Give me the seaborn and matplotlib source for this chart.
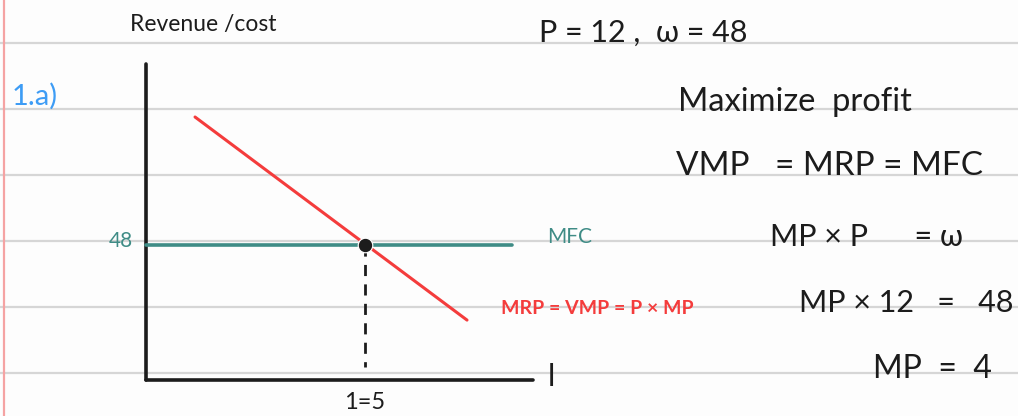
import seaborn as sns
import numpy as np
import pandas as pd
import matplotlib.pyplot as plt
from matplotlib.lines import Line2D

sns.set_theme(style='white')
plt.rcParams['font.family'] = ['Lato', 'DejaVu Sans']

# given values
price = 12
wage = 48
mp_opt = 4
labor_opt = 5

# MRP = VMP curve (labour, revenue)
mrp_labor = [1.12, 7.33]
mrp_value = [93.5, 21.3]

# MFC line
mfc_labor = [0, 8.36]
mfc_value = [wage, wage]

RED = '#f43c3c'
TEAL = '#3f8c86'
INK = '#1c1c1c'

fig = plt.figure(figsize=(10.18, 4.16), dpi=100)
fig.patch.set_facecolor('#fdfdfd')

# notebook ruling
for yp in [43, 109, 175, 241, 307, 373]:
    fig.add_artist(Line2D([0, 1], [1 - yp / 416] * 2, transform=fig.transFigure,
                          color='#d6d6d6', lw=1.6, zorder=0))
fig.add_artist(Line2D([4 / 1018] * 2, [0, 1], transform=fig.transFigure,
                      color='#f5a3a3', lw=1.6, zorder=0))

ax = fig.add_axes([0, 0, 1, 1])
ax.set_facecolor('none')
ax.set_xlim(-3.333, 19.91)
ax.set_ylim(-12.8, 135.1)
ax.axis('off')

# axes of the sketch
ax.plot([0, 0], [0, 112.4], color=INK, lw=2.6, solid_capstyle='round')
ax.plot([0, 8.84], [0, 0], color=INK, lw=2.6, solid_capstyle='round')
ax.text(9.25, 1, 'l', fontsize=22, color=INK, ha='center', va='center')

mrp = pd.DataFrame({'L': mrp_labor, 'v': mrp_value})
mfc = pd.DataFrame({'L': mfc_labor, 'v': mfc_value})
sns.lineplot(data=mfc, x='L', y='v', ax=ax, color=TEAL, lw=2.6)
sns.lineplot(data=mrp, x='L', y='v', ax=ax, color=RED, lw=2.2)

ax.plot([labor_opt, labor_opt], [wage, 4.5], color=INK, lw=2, ls=(0, (4, 3)))
sns.scatterplot(x=[labor_opt], y=[wage], ax=ax, color=INK, s=110, zorder=5)
ax.set_xlabel('')
ax.set_ylabel('')

# labels on the graph
ax.text(-0.3, wage + 1.5, str(wage), fontsize=15, color=TEAL, ha='right', va='center')
ax.text(9.15, wage + 3, 'MFC', fontsize=15, color=TEAL, ha='left', va='center')
ax.text(8.1, 25.5, 'MRP = VMP = P × MP', fontsize=14, color=RED, ha='left', va='center',
        fontweight='bold')
ax.text(labor_opt, -8, f'1={labor_opt}', fontsize=17, color=INK, ha='center', va='center')
ax.text(1.3, 126.5, 'Revenue /cost', fontsize=16.5, color=INK, ha='center', va='center')
ax.text(-2.53, 101, '1.a)', fontsize=21, color='#3d9cf5', ha='center', va='center')

# working on the right
ax.text(11.35, 123.4, f'P = {price} ,  ω = {wage}', fontsize=22, color=INK, ha='center', va='center')
ax.text(12.15, 99, 'Maximize  profit', fontsize=23.5, color=INK, ha='left', va='center')
ax.text(12.1, 76, 'VMP   = MRP = MFC', fontsize=24, color=INK, ha='left', va='center')
ax.text(14.25, 51, 'MP × P      = ω', fontsize=22, color=INK, ha='left', va='center')
ax.text(14.9, 27.5, f'MP × {price}   =   {wage}', fontsize=22, color=INK, ha='left', va='center')
ax.text(16.6, 4, f'MP  =  {mp_opt}', fontsize=23, color=INK, ha='left', va='center')

fig.savefig('out.png', dpi=100, facecolor=fig.get_facecolor())
